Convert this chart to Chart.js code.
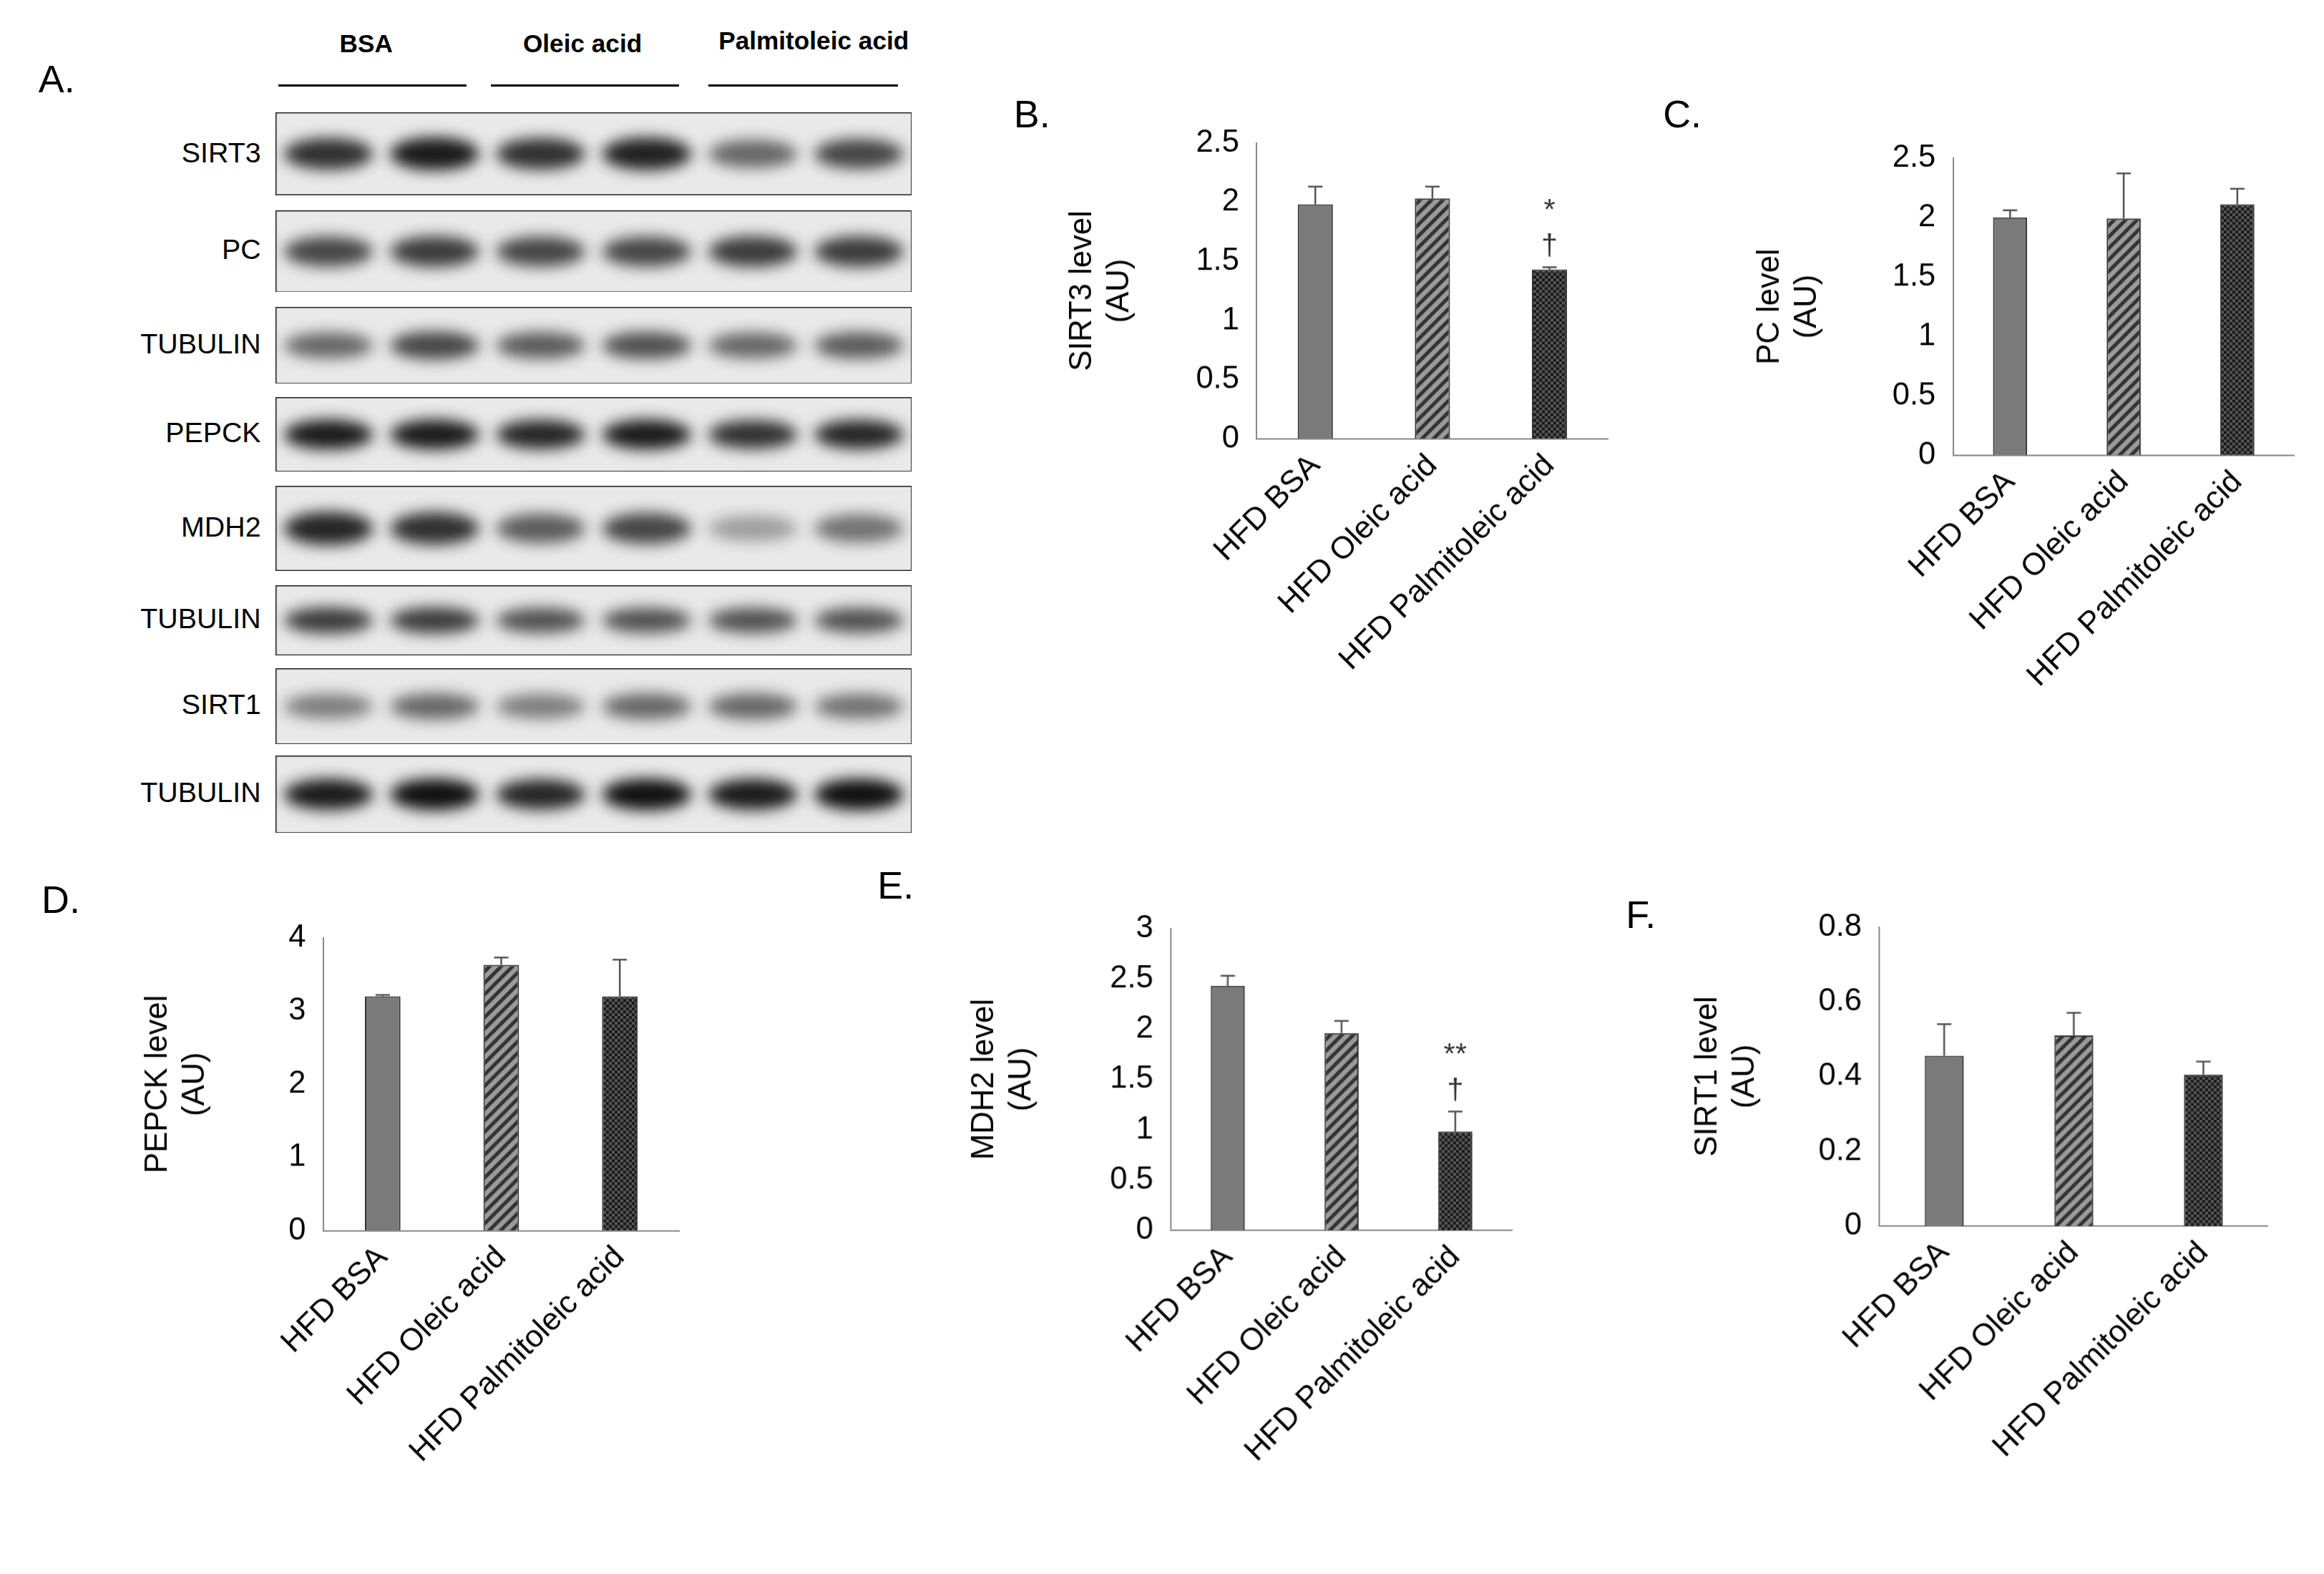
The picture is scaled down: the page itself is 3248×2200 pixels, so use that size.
<!DOCTYPE html>
<html><head><meta charset="utf-8">
<script src="https://cdn.jsdelivr.net/npm/chart.js@4"></script>
<style>
body{margin:0;background:#fff;width:3248px;height:2200px;position:relative;overflow:hidden;font-family:"Liberation Sans",Arial,sans-serif}
.box{position:absolute}
.txt{position:absolute;color:#000;white-space:nowrap}
</style></head><body>
<script>
const S = 3248/1568;
// ---------- data ----------
const categories = ["HFD BSA","HFD Oleic acid","HFD Palmitoleic acid"];
const sirt3Values = [1.98, 2.03, 1.43];
const sirt3Errors = [0.15, 0.10, 0.02];
const pcValues = [2.00, 1.99, 2.11];
const pcErrors = [0.06, 0.38, 0.13];
const pepckValues = [3.20, 3.63, 3.20];
const pepckErrors = [0.02, 0.10, 0.50];
const mdh2Values = [2.43, 1.96, 0.98];
const mdh2Errors = [0.10, 0.12, 0.20];
const sirt1Values = [0.455, 0.51, 0.405];
const sirt1Errors = [0.085, 0.06, 0.035];
const sirt3Marks = ["", "", "*\n†"];
const mdh2Marks = ["", "", "**\n†"];
const blotLabels = ["SIRT3","PC","TUBULIN","PEPCK","MDH2","TUBULIN","SIRT1","TUBULIN"];
const blotLanes = [1,2,3,4,5,6];
const blotIntensity = [
  [0.85,0.95,0.85,0.92,0.6,0.75],
  [0.75,0.8,0.75,0.75,0.8,0.8],
  [0.6,0.75,0.65,0.7,0.6,0.65],
  [0.95,0.95,0.9,0.95,0.85,0.9],
  [0.9,0.85,0.65,0.75,0.35,0.55],
  [0.8,0.8,0.7,0.7,0.7,0.7],
  [0.5,0.6,0.5,0.6,0.6,0.55],
  [0.95,1,0.9,1,0.95,1]
];
const groupHeaders = ["BSA","Oleic acid","Palmitoleic acid"];

function addText(t,x,y,size,opts={}){
  const d=document.createElement('div');d.className='txt';d.textContent=t;
  d.style.left=(x*S)+'px';d.style.top=(y*S)+'px';d.style.fontSize=(size*S)+'px';
  if(opts.bold)d.style.fontWeight='bold';
  if(opts.center){d.style.transform='translate(-50%,0)';}
  if(opts.right){d.style.transform='translate(-100%,0)';}
  document.body.appendChild(d);
}
function addLine(x1,x2,y){
  const d=document.createElement('div');d.className='box';
  d.style.left=x1*S+'px';d.style.width=(x2-x1)*S+'px';d.style.top=y*S+'px';d.style.height='3px';d.style.background='#000';
  document.body.appendChild(d);
}
// panel letters
addText("A.",26,38,26);addText("B.",684,62,26);addText("C.",1122,62,26);
addText("D.",28,592,26);addText("E.",592,582,26);addText("F.",1097,602,26);

// ---------- patterns ----------
function hatch(){
  const c=document.createElement('canvas');c.width=c.height=16;const g=c.getContext('2d');
  g.fillStyle='#9a9a9a';g.fillRect(0,0,16,16);g.strokeStyle='#333';g.lineWidth=5;
  g.beginPath();g.moveTo(-4,20);g.lineTo(20,-4);g.moveTo(-4,4);g.lineTo(4,-4);g.moveTo(12,20);g.lineTo(20,12);g.stroke();
  return g.createPattern(c,'repeat');
}
function checker(){
  const c=document.createElement('canvas');c.width=c.height=8;const g=c.getContext('2d');
  g.fillStyle='#555';g.fillRect(0,0,8,8);g.fillStyle='#1a1a1a';g.fillRect(0,0,4,4);g.fillRect(4,4,4,4);
  return g.createPattern(c,'repeat');
}

const errPlugin={id:'err',afterDatasetsDraw(ch){
  const o=ch.options.plugins.err;if(!o)return;const ctx=ch.ctx,x=ch.scales.x,y=ch.scales.y;
  ctx.save();ctx.strokeStyle='#555';ctx.lineWidth=2.5;
  ch.getDatasetMeta(0).data.forEach((b,i)=>{
    const v=ch.data.datasets[0].data[i],e=o.errors[i];
    const yt=y.getPixelForValue(v+e),yb=y.getPixelForValue(v);
    ctx.beginPath();ctx.moveTo(b.x,yt);ctx.lineTo(b.x,yb);ctx.moveTo(b.x-10,yt);ctx.lineTo(b.x+10,yt);ctx.stroke();
    const m=o.marks&&o.marks[i];
    if(m){ctx.fillStyle='#333';ctx.font=(20*S)+'px "Liberation Sans"';ctx.textAlign='center';ctx.textBaseline='bottom';
      const lines=m.split('\n');let yy=yt-8;
      for(let k=lines.length-1;k>=0;k--){ctx.fillText(lines[k],b.x,yy);yy-=24*S;}}
  });ctx.restore();}};

function panel(id,plot,yCfg,vals,errs,marks,title){
  const yW=plot.yW, xH=plot.xH, pad=14;
  const d=document.createElement('div');d.className='box';
  const left=plot.l-yW, top=plot.t-pad;
  d.style.left=left*S+'px';d.style.top=top*S+'px';
  d.style.width=(plot.r-left+10)*S+'px';d.style.height=(plot.b-top+xH)*S+'px';
  const c=document.createElement('canvas');d.appendChild(c);document.body.appendChild(d);
  new Chart(c,{type:'bar',
    data:{labels:categories,datasets:[{data:vals,backgroundColor:['#7a7a7a',hatch(),checker()],borderColor:'#333',borderWidth:2,barPercentage:0.3,categoryPercentage:1}]},
    options:{responsive:true,maintainAspectRatio:false,animation:false,
      layout:{padding:{top:pad*S,right:10*S,left:0,bottom:0}},
      plugins:{legend:{display:false},tooltip:{enabled:false},err:{errors:errs,marks:marks}},
      scales:{
        x:{grid:{display:false},border:{display:true,color:'#888',width:2},
          ticks:{minRotation:45,maxRotation:45,color:'#000',font:{size:21*S,family:'Liberation Sans'},padding:4},
          afterFit(s){s.height=xH*S;}},
        y:{min:0,max:yCfg.max,grid:{display:false},border:{display:true,color:'#888',width:2},
          ticks:{stepSize:yCfg.step,color:'#000',font:{size:21*S,family:'Liberation Sans'},padding:8*S,
            callback:v=>String(Math.round(v*10)/10)},
          title:{display:true,text:title,color:'#000',font:{size:21*S,family:'Liberation Sans'},padding:{bottom:10*S}},
          afterFit(s){s.width=yW*S;}}
      }},plugins:[errPlugin]});
}
panel('B',{l:848,r:1085,t:90,b:296,yW:132,xH:222},{max:2.5,step:0.5},sirt3Values,sirt3Errors,sirt3Marks,["SIRT3 level","(AU)"]);
panel('C',{l:1318,r:1548,t:100,b:307,yW:138,xH:222},{max:2.5,step:0.5},pcValues,pcErrors,null,["PC level","(AU)"]);
panel('D',{l:218,r:458,t:626,b:830,yW:126,xH:215},{max:4,step:0.5},pepckValues,pepckErrors,null,["PEPCK level","(AU)"]);
panel('E',{l:790,r:1020,t:620,b:830,yW:140,xH:215},{max:3,step:0.5},mdh2Values,mdh2Errors,mdh2Marks,["MDH2 level","(AU)"]);
panel('F',{l:1268,r:1530,t:619,b:827,yW:130,xH:220},{max:0.8,step:0.2},sirt1Values,sirt1Errors,null,["SIRT1 level","(AU)"]);

// ---------- blots ----------
const rowsY=[[76,132],[142,197],[207,259],[268,318],[328,385],[395,442],[451,502],[510,562]];
const bandPlugin={id:'band',beforeDatasetsDraw(ch){
  const ctx=ch.ctx,x=ch.scales.x,y=ch.scales.y,a=ch.chartArea;
  ctx.save();ctx.fillStyle='#e9e9e9';ctx.fillRect(a.left,a.top,a.width,a.height);
  ctx.filter='blur('+(5*S)+'px)';
  ch.data.datasets[0].data.forEach(p=>{
    const cx=x.getPixelForValue(p.x),cy=y.getPixelForValue(0.5);
    ctx.fillStyle='rgba(15,15,15,'+p.v+')';ctx.beginPath();
    ctx.ellipse(cx,cy,30*S,(a.height*0.17)*(0.7+p.v*0.5),0,0,Math.PI*2);ctx.fill();
  });
  ctx.filter='none';ctx.strokeStyle='#222';ctx.lineWidth=3;ctx.strokeRect(a.left,a.top,a.width,a.height);
  ctx.restore();}};
blotLabels.forEach((lab,r)=>{
  const [t,b]=rowsY[r];
  const d=document.createElement('div');d.className='box';
  d.style.left=186*S+'px';d.style.top=t*S+'px';d.style.width=(615-186)*S+'px';d.style.height=(b-t)*S+'px';
  const c=document.createElement('canvas');d.appendChild(c);document.body.appendChild(d);
  new Chart(c,{type:'scatter',data:{datasets:[{data:blotLanes.map((l,i)=>({x:l,y:0.5,v:blotIntensity[r][i]})),pointRadius:0}]},
    options:{responsive:true,maintainAspectRatio:false,animation:false,layout:{padding:0},
      plugins:{legend:{display:false},tooltip:{enabled:false}},
      scales:{x:{display:false,min:0.5,max:6.5},y:{display:false,min:0,max:1}}},plugins:[bandPlugin]});
  addText(lab,176,(t+b)/2-12,19,{right:true});
});
addText(groupHeaders[0],247,20,17,{center:true,bold:true});
addText(groupHeaders[1],393,20,17,{center:true,bold:true});
addText(groupHeaders[2],549,18,17,{center:true,bold:true});
addLine(188,315,57);addLine(331,458,57);addLine(478,606,57);
</script>
</body></html>
